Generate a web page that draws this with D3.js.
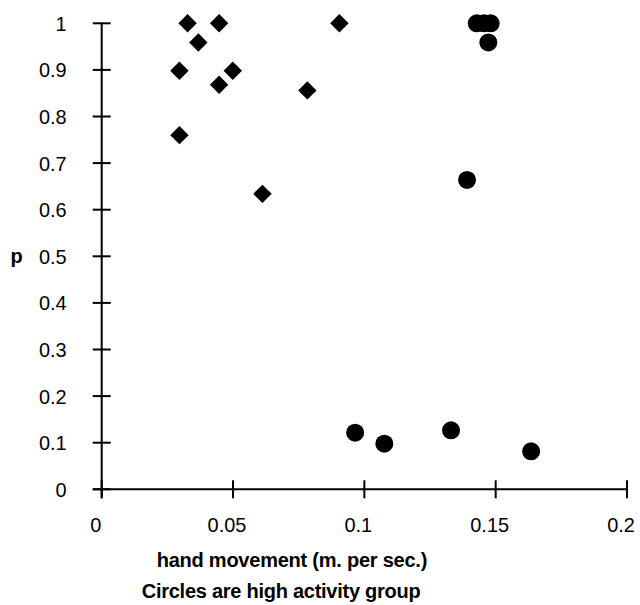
<!DOCTYPE html>
<html>
<head>
	<meta charset="utf-8">
	<script src="https://d3js.org/d3.v7.min.js"></script>
	<style>
		body { margin: 0; background: white; }
		text { font-family: "Liberation Sans", Arial, sans-serif; fill: black; }
	</style>
</head>
<body>
	<svg width="640" height="605"></svg>
	<script>
		// low activity group (diamonds)
		let lowX = [0.0327, 0.0447, 0.0368, 0.0296, 0.0499, 0.0447, 0.0783, 0.0296, 0.0612, 0.0905];
		let lowP = [1.0, 1.0, 0.959, 0.898, 0.898, 0.868, 0.856, 0.760, 0.634, 1.0];

		// high activity group (circles)
		let highX = [0.1428, 0.1456, 0.1481, 0.1472, 0.1391, 0.0965, 0.1076, 0.1330, 0.1635];
		let highP = [1.0, 1.0, 1.0, 0.959, 0.664, 0.1215, 0.0979, 0.1266, 0.0815];

		let xTicks = [0, 0.05, 0.1, 0.15, 0.2];
		let yTicks = [0, 0.1, 0.2, 0.3, 0.4, 0.5, 0.6, 0.7, 0.8, 0.9, 1];

		const svg = d3.select("svg");
		const plotL = 101.7, plotR = 627, plotT = 23.3, plotB = 489.3;

		const x = d3.scaleLinear().domain([0, 0.2]).range([plotL, plotR]);
		const y = d3.scaleLinear().domain([0, 1]).range([plotB, plotT]);

		const fmt = d => d === 0 ? "0" : String(d);

		// x axis with crossing ticks
		const xAxis = svg.append("g").attr("transform", `translate(0,${plotB})`);
		xAxis.append("line").attr("x1", plotL - 9).attr("x2", plotR).attr("stroke", "black").attr("stroke-width", 2);
		xAxis.selectAll(".tk").data(xTicks).enter().append("line")
			.attr("x1", d => x(d)).attr("x2", d => x(d))
			.attr("y1", -9).attr("y2", 9)
			.attr("stroke", "black").attr("stroke-width", 2);
		xAxis.selectAll(".lb").data(xTicks).enter().append("text")
			.attr("transform", d => `translate(${x(d) - 6},43) scale(0.95,1)`)
			.attr("text-anchor", "middle")
			.attr("font-size", 21)
			.text(fmt);

		// y axis with crossing ticks
		const yAxis = svg.append("g").attr("transform", `translate(${plotL},0)`);
		yAxis.append("line").attr("y1", plotT).attr("y2", plotB + 9).attr("stroke", "black").attr("stroke-width", 2);
		yAxis.selectAll(".tk").data(yTicks).enter().append("line")
			.attr("y1", d => y(d)).attr("y2", d => y(d))
			.attr("x1", -9).attr("x2", 9)
			.attr("stroke", "black").attr("stroke-width", 2);
		yAxis.selectAll(".lb").data(yTicks).enter().append("text")
			.attr("transform", d => `translate(-35,${y(d) + 7.5}) scale(0.95,1)`)
			.attr("text-anchor", "end")
			.attr("font-size", 21)
			.text(fmt);

		// diamonds
		const diamond = d3.symbol().type(d3.symbolSquare).size(170);
		svg.selectAll(".low").data(lowX).enter().append("path")
			.attr("d", diamond)
			.attr("transform", (d, i) => `translate(${x(d)},${y(lowP[i])}) rotate(45)`)
			.attr("fill", "black");

		// circles
		svg.selectAll(".high").data(highX).enter().append("circle")
			.attr("cx", d => x(d)).attr("cy", (d, i) => y(highP[i]))
			.attr("r", 9)
			.attr("fill", "black");

		// labels
		svg.append("text").attr("x", 16.7).attr("y", 263)
			.attr("font-size", 20).attr("font-weight", "bold").attr("text-anchor", "middle").text("p");
		svg.append("text").attr("x", 156.7).attr("y", 566.7)
			.attr("font-size", 20).attr("font-weight", "bold").attr("textLength", 270.6).text("hand movement (m. per sec.)");
		svg.append("text").attr("x", 141.7).attr("y", 597.5)
			.attr("font-size", 20).attr("font-weight", "bold").attr("textLength", 279).text("Circles are high activity group");
	</script>
</body>
</html>
